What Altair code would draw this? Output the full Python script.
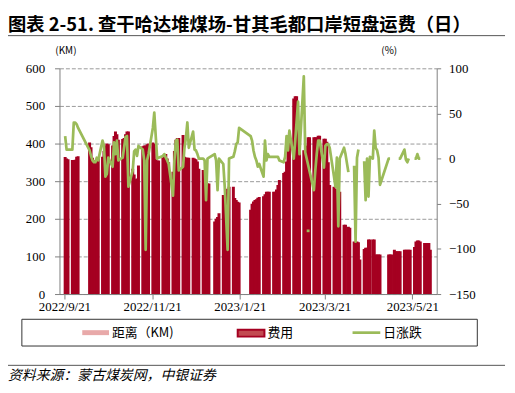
import altair as alt
import pandas as pd

# ---------------- data ----------------
DATES = [
    "2022-09-21", "2022-09-22", "2022-09-23", "2022-09-26", "2022-09-27", "2022-09-28", "2022-09-29", "2022-09-30",
    "2022-10-08", "2022-10-09", "2022-10-10", "2022-10-11", "2022-10-12", "2022-10-13", "2022-10-14",
    "2022-10-17", "2022-10-18", "2022-10-19", "2022-10-20", "2022-10-21",
    "2022-10-24", "2022-10-25", "2022-10-26", "2022-10-27", "2022-10-28", "2022-10-31",
    "2022-11-01", "2022-11-02", "2022-11-03", "2022-11-04",
    "2022-11-07", "2022-11-08", "2022-11-09", "2022-11-10", "2022-11-11",
    "2022-11-14", "2022-11-15", "2022-11-16", "2022-11-17", "2022-11-18",
    "2022-11-21", "2022-11-22", "2022-11-23", "2022-11-24", "2022-11-25",
    "2022-11-28", "2022-11-29", "2022-11-30",
    "2022-12-01", "2022-12-02",
    "2022-12-05", "2022-12-06", "2022-12-07", "2022-12-08", "2022-12-09",
    "2022-12-12", "2022-12-13", "2022-12-14", "2022-12-15", "2022-12-16",
    "2022-12-19", "2022-12-20", "2022-12-21", "2022-12-22", "2022-12-23",
    "2022-12-26", "2022-12-27", "2022-12-28", "2022-12-29", "2022-12-30",
    "2023-01-03", "2023-01-04", "2023-01-05", "2023-01-06",
    "2023-01-09", "2023-01-10", "2023-01-11", "2023-01-12", "2023-01-13",
    "2023-01-16", "2023-01-17", "2023-01-18", "2023-01-19", "2023-01-20",
    "2023-01-28", "2023-01-29", "2023-01-30", "2023-01-31",
    "2023-02-01", "2023-02-02", "2023-02-03",
    "2023-02-06", "2023-02-07", "2023-02-08", "2023-02-09", "2023-02-10",
    "2023-02-13", "2023-02-14", "2023-02-15", "2023-02-16", "2023-02-17",
    "2023-02-20", "2023-02-21", "2023-02-22", "2023-02-23", "2023-02-24",
    "2023-02-27", "2023-02-28",
    "2023-03-01", "2023-03-02", "2023-03-03",
    "2023-03-06", "2023-03-07", "2023-03-08", "2023-03-09", "2023-03-10",
    "2023-03-13", "2023-03-14", "2023-03-15", "2023-03-16", "2023-03-17",
    "2023-03-20", "2023-03-21", "2023-03-22", "2023-03-23", "2023-03-24",
    "2023-03-27", "2023-03-28", "2023-03-29", "2023-03-30", "2023-03-31",
    "2023-04-03", "2023-04-04", "2023-04-06", "2023-04-07",
    "2023-04-10", "2023-04-11", "2023-04-12", "2023-04-13", "2023-04-14",
    "2023-04-17", "2023-04-18", "2023-04-19", "2023-04-20", "2023-04-21",
    "2023-04-23", "2023-04-24", "2023-04-25", "2023-04-26", "2023-04-27", "2023-04-28",
    "2023-05-04", "2023-05-05", "2023-05-06",
    "2023-05-08", "2023-05-09", "2023-05-10", "2023-05-11", "2023-05-12",
    "2023-05-15", "2023-05-16", "2023-05-17", "2023-05-18", "2023-05-19",
    "2023-05-22", "2023-05-23", "2023-05-24", "2023-05-25", "2023-05-26",
    "2023-05-29", "2023-05-30", "2023-05-31",
    "2023-06-01", "2023-06-02",
]

# 费用 (left axis)
FEE = [
    364, 360, 358, 356, 356, 357, 365, 366,
    403, 390, 362, 355, 355, 355, 360,
    365, 380, 395, 400, 398,
    395, 420, 432, 425, 410, 412,
    415, 425, 432, 432,
    333, 318, 305, 307, 342,
    393, 395, 395, 398, 400,
    403, 400, 358, 355, 355,
    363, 370, 372,
    360, 350,
    325, 380, 410, 415, 415,
    423, 365, 363, 362, 362,
    362, 360, 358, 352, 333,
    330, 296, 294, 294, 294,
    193, 200, 205, 215,
    263, 263, 270, 280, 285,
    285, 255, 250, 245, 243,
    224, 240, 246, 250,
    252, 256, 258,
    260, 265, 272, 272, 272,
    272, 272, 278, 290, 303,
    322, 325, 352, 380, 430,
    520, 526,
    526, 443, 440,
    382, 382, 395, 417, 417,
    417, 417, 417, 421, 421,
    413, 413, 405, 350, 290,
    285, 280, 275, 272, 272,
    184, 184, 179, 176,
    140, 140, 140, 138, 92,
    120, 123, 123, 145, 145,
    145, 145, 105, 105, 105, 105,
    105, 105, 105,
    118, 114, 114, 114, 114,
    118, 118, 118, 118, 118,
    125, 140, 142, 142, 140,
    136, 136, 136,
    136, 118,
]

# 日涨跌 (right axis, %), None = no value
CHG = [
    25, 10, 10, 10, 40, 40, 38, 34,
    9, 3, -2, -4, -4, 1, -2,
    20, 14, -20, -17, 1,
    -9, 18, 5, 20, -2, 1,
    12, 24, 25, -31,
    -13, 8, 10, 3, 14,
    10, -2, -101, -2, 5,
    34, 51, 25, 0, 1,
    3, 5, 1,
    -2, -6,
    -41, -2, 20, 21, -13,
    -9, 12, 23, 40, 12,
    30, 10, 9, 5, 0,
    0, -2, -46, 0, 1,
    5, -2, -35, 0,
    -6, -31, -66, -101, 0,
    2, 8, 16, 18, 34,
    25, 20, 9, 2,
    -2, -9, -6,
    -20, 20, -2, 5, 2,
    2, 2, 2, 2, -2,
    -4, 2, 25, 9, 31,
    0, 19,
    41, 63, 5,
    91, 7, -80, -80, -80,
    -35, -13, 5, 20, 20,
    -10, 14, 16, 16, 12,
    -20, -31, 1, -75, 0,
    12, 5, -15, None,
    -8, -92, 1, 10, None,
    -3, -46, 0, -42, 2,
    0, 31, 12, 9, 1, -29,
    0, 0, None,
    None, None, None, 0, 0,
    10, -1, -4, 0, None,
    0, 0, 5, 0, 0,
    None, None, None,
    None, None,
]

# isolated short stroke of the 日涨跌 line
DASH_DATES = ["2023-03-08", "2023-03-09", "2023-03-10"]

LEFT_TICKS = [0, 100, 200, 300, 400, 500, 600]
RIGHT_TICKS = [-150, -100, -50, 0, 50, 100]
X_TICKS = ["2022-09-21", "2022-11-21", "2023-01-21", "2023-03-21", "2023-05-21"]
X_RANGE = ["2022-09-21T00:00", "2023-06-03T12:00"]

TITLE = "图表 2-51. 查干哈达堆煤场-甘其毛都口岸短盘运费（日）"
SOURCE = "资料来源：蒙古煤炭网，中银证券"
LEFT_UNIT = "(KM)"
RIGHT_UNIT = "(%)"
LEGEND_LABELS = ["距离（KM)", "费用", "日涨跌"]

assert len(DATES) == len(FEE) == len(CHG)

# ---------------- styling ----------------
RED = "#A50021"
GREEN = "#9BBB59"
PINK = "#E8A9A9"
AXIS_GREY = "#808080"
NUM_FONT = "Liberation Serif"
CJK_FONT = "Noto Sans CJK SC"
W, H = 381, 228


def dt(s):
    t = pd.Timestamp(s)
    return alt.DateTime(year=t.year, month=t.month, date=t.day, hours=t.hour, minutes=t.minute)


df = pd.DataFrame({"date": pd.to_datetime(DATES), "fee": FEE, "chg": CHG})
df["t"] = (df["date"] + pd.Timedelta(hours=12)).dt.strftime("%Y-%m-%dT%H:%M:%S")
df["seg"] = df["chg"].isna().cumsum()
df.loc[df["date"].isin(pd.to_datetime(DASH_DATES)), "seg"] = -1
bar_df = df[["t", "fee"]]
line_df = df.dropna(subset=["chg"])[["t", "chg", "seg"]]

xscale = alt.Scale(domain=[dt(X_RANGE[0]), dt(X_RANGE[1])])
xaxis = alt.Axis(
    values=[dt(v) for v in X_TICKS], format="%Y/%-m/%-d", labelFlush=False,
    labelOverlap=False, grid=False, domainColor=AXIS_GREY, tickColor=AXIS_GREY,
    tickSize=5, labelPadding=2, labelFont=NUM_FONT, labelFontSize=13,
    labelColor="#000000", title=None,
)

bars = alt.Chart(bar_df).mark_bar(size=3, color=RED, clip=True).encode(
    x=alt.X("t:T", scale=xscale, axis=xaxis),
    y=alt.Y("fee:Q", scale=alt.Scale(domain=[0, 600], nice=False),
            axis=alt.Axis(values=LEFT_TICKS, orient="left", grid=True, gridDash=[4, 2],
                          gridColor="#9a9a9a", domainColor=AXIS_GREY, tickColor=AXIS_GREY,
                          tickSize=5, labelPadding=10, labelFont=NUM_FONT, labelFontSize=13,
                          labelColor="#000000", title=None)),
)

line = alt.Chart(line_df).mark_line(color=GREEN, strokeWidth=2.75, strokeJoin="round").encode(
    x=alt.X("t:T", scale=xscale),
    y=alt.Y("chg:Q", scale=alt.Scale(domain=[-150, 100], nice=False),
            axis=alt.Axis(values=RIGHT_TICKS, orient="right", grid=False,
                          domainColor=AXIS_GREY, tickColor=AXIS_GREY, tickSize=4,
                          labelPadding=8, labelFont=NUM_FONT, labelFontSize=13,
                          labelColor="#000000", title=None)),
    detail="seg:N",
)

main = alt.layer(bars, line).resolve_scale(y="independent")

one = pd.DataFrame({"k": [0]})


def text_layer(txt, x, y, size, font=CJK_FONT, align="left", weight="normal", style="normal",
               baseline="alphabetic"):
    return alt.Chart(pd.DataFrame({"label": [txt]})).mark_text(
        align=align, baseline=baseline, font=font, fontSize=size, fontWeight=weight,
        fontStyle=style, color="#000000",
    ).encode(x=alt.value(x), y=alt.value(y), text="label:N")


def hrule(x1, x2, y, color="#555555", width=1):
    return alt.Chart(one).mark_rule(color=color, strokeWidth=width).encode(
        x=alt.value(x1), x2=alt.value(x2), y=alt.value(y))


title = text_layer(TITLE, -52, -37.5, 18.5, weight="bold")
title_rule = hrule(-55, 450, -33)
left_unit = text_layer(LEFT_UNIT, 6.5, -14, 10, align="center")
right_unit = text_layer(RIGHT_UNIT, 333, -14, 10, align="center")

legend_box = alt.Chart(one).mark_rect(fillOpacity=0, stroke="#333333", strokeWidth=1).encode(
    x=alt.value(-38), x2=alt.value(422), y=alt.value(253.5), y2=alt.value(280.5))
sw_pink = alt.Chart(one).mark_rect(color=PINK).encode(
    x=alt.value(23), x2=alt.value(50), y=alt.value(264.5), y2=alt.value(269.5))
sw_red = alt.Chart(one).mark_rect(fill="#C24A50", stroke=RED, strokeWidth=2).encode(
    x=alt.value(180), x2=alt.value(207), y=alt.value(264), y2=alt.value(271))
sw_green = hrule(296, 324, 267, color=GREEN, width=2.75)
lab1 = text_layer(LEGEND_LABELS[0], 53, 267, 13, baseline="middle")
lab2 = text_layer(LEGEND_LABELS[1], 210, 267, 13, baseline="middle")
lab3 = text_layer(LEGEND_LABELS[2], 327, 267, 13, baseline="middle")

source_rule = hrule(-55, 450, 300)
source = text_layer(SOURCE, -52, 315, 14, style="italic")

chart = alt.layer(
    main, title, title_rule, left_unit, right_unit,
    legend_box, sw_pink, sw_red, sw_green, lab1, lab2, lab3,
    source_rule, source,
).properties(
    width=W, height=H,
    autosize=alt.AutoSizeParams(type="none"),
    padding={"left": 52, "top": 59, "right": 71, "bottom": 95},
).configure_view(stroke="transparent")

chart.save("out.html", embed_options={"renderer": "svg", "actions": False})
